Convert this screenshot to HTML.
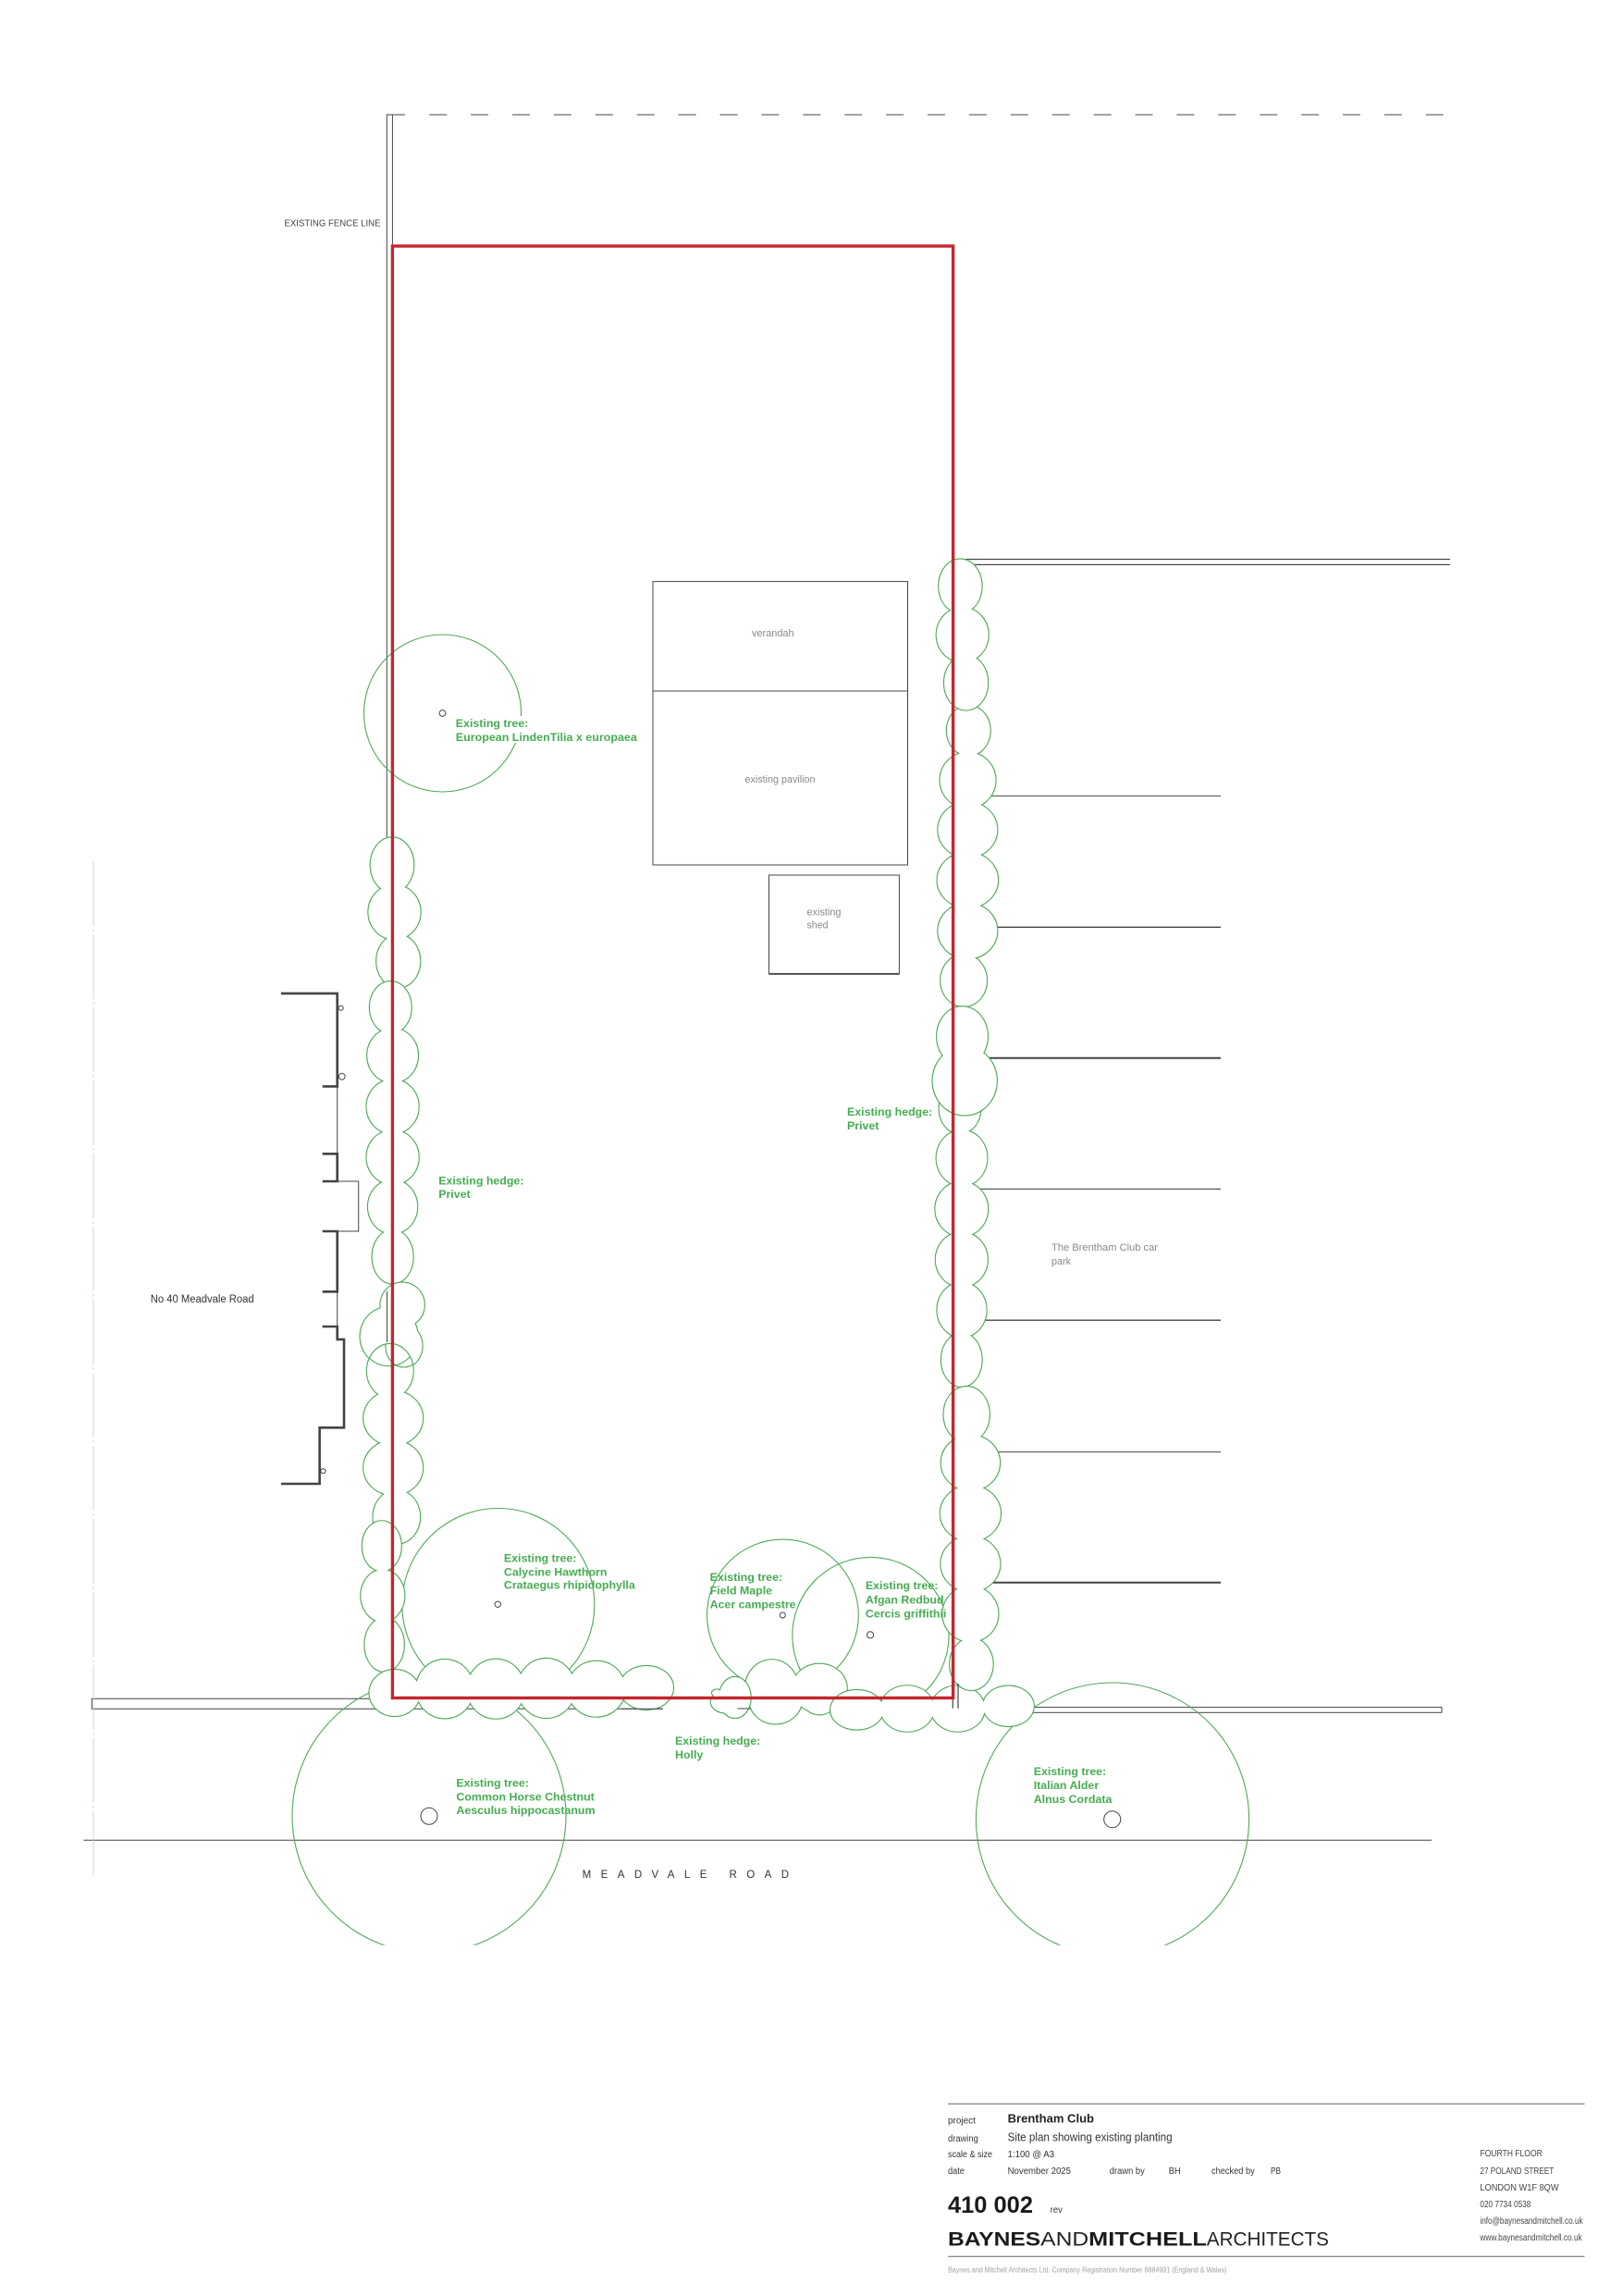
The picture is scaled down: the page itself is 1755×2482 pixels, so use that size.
<!DOCTYPE html>
<html lang="en">
<head>
<meta charset="utf-8">
<title>Brentham Club - Site plan showing existing planting</title>
<style>
html,body{margin:0;padding:0;background:#fff;}
svg{display:block;}
text{font-family:"Liberation Sans",sans-serif;}
.g{font-weight:bold;font-size:12.4px;fill:#46ac52;}
.p{font-size:11px;fill:#888;}
.t{font-size:10px;fill:#333;}
.a{font-size:10px;fill:#444;}
</style>
</head>
<body>
<svg xmlns="http://www.w3.org/2000/svg" width="1755" height="2482" viewBox="0 0 1755 2482">
<defs>
<clipPath id="cl"><rect x="0" y="0" width="1755" height="2102.7"/></clipPath>
<clipPath id="d1c"><ellipse cx="421.8" cy="1482" rx="24.9" ry="29"/></clipPath>
<g id="hR0"><ellipse cx="926.6" cy="1848.3" rx="28.5" ry="21.3"/><ellipse cx="981" cy="1847" rx="29" ry="24.7"/><ellipse cx="1035.7" cy="1847" rx="29" ry="24.7"/><ellipse cx="1090.4" cy="1844.3" rx="27.4" ry="21.7"/></g>
<g id="hB"><ellipse cx="834.5" cy="1825" rx="28.6" ry="30.7"/><ellipse cx="886.2" cy="1825" rx="29.5" ry="26.3"/><ellipse cx="838.7" cy="1836.7" rx="28.6" ry="26.7"/><ellipse cx="886.2" cy="1831.7" rx="21" ry="21.7"/></g>
<g id="hA"><ellipse cx="794.7" cy="1835" rx="17" ry="22"/><ellipse cx="785.7" cy="1839.7" rx="17" ry="12"/><ellipse cx="775" cy="1830" rx="5" ry="3.5"/></g>
<g id="rB"><ellipse cx="1047.3" cy="789.8" rx="23.4" ry="27"/><ellipse cx="1046.5" cy="843.4" rx="30" ry="30"/><ellipse cx="1046.3" cy="897" rx="32" ry="30"/><ellipse cx="1046.3" cy="951.4" rx="32.8" ry="30"/><ellipse cx="1046.3" cy="1006.3" rx="32" ry="30"/><ellipse cx="1042.1" cy="1059.9" rx="24.9" ry="28"/></g>
<g id="rA"><ellipse cx="1038.4" cy="633.6" rx="23.2" ry="29"/><ellipse cx="1040.7" cy="686.3" rx="28" ry="29.5"/><ellipse cx="1044.6" cy="738" rx="23.6" ry="29.5"/></g>
<g id="rD"><ellipse cx="1038" cy="1198.3" rx="22.4" ry="27"/><ellipse cx="1040" cy="1251.9" rx="27.4" ry="30"/><ellipse cx="1039.8" cy="1307" rx="28.4" ry="29.5"/><ellipse cx="1039.8" cy="1361.6" rx="28" ry="29.5"/><ellipse cx="1040" cy="1416" rx="26.6" ry="29.5"/><ellipse cx="1039.8" cy="1470" rx="21.8" ry="29"/></g>
<g id="rC"><ellipse cx="1040.5" cy="1120.2" rx="27.4" ry="32"/><ellipse cx="1043.2" cy="1168.4" rx="34.6" ry="37"/></g>
<g id="rE"><ellipse cx="1045.2" cy="1529" rx="24.7" ry="30"/><ellipse cx="1049.4" cy="1581.3" rx="31.7" ry="30"/><ellipse cx="1049.4" cy="1636" rx="32.6" ry="30"/><ellipse cx="1049.4" cy="1690.6" rx="32" ry="30"/><ellipse cx="1049.4" cy="1744.6" rx="30" ry="30"/><ellipse cx="1050.4" cy="1799" rx="23.2" ry="28"/></g>
<g id="lA"><ellipse cx="424" cy="935" rx="23.3" ry="29.6"/><ellipse cx="426.5" cy="986" rx="28.1" ry="29.3"/><ellipse cx="430.7" cy="1039" rx="23.5" ry="28.5"/></g>
<g id="lB"><ellipse cx="422.3" cy="1089" rx="22.4" ry="28"/><ellipse cx="424.6" cy="1141" rx="27.4" ry="29.3"/><ellipse cx="424.6" cy="1196.3" rx="28.1" ry="29.3"/><ellipse cx="424.6" cy="1251" rx="28.1" ry="29.3"/><ellipse cx="424.6" cy="1304.5" rx="26.6" ry="29"/><ellipse cx="424.6" cy="1358.6" rx="22" ry="29"/></g>
<g id="lC"><ellipse cx="435.1" cy="1410.6" rx="23.7" ry="24"/><ellipse cx="436.7" cy="1455" rx="19.9" ry="23"/><ellipse cx="420.6" cy="1444.8" rx="31" ry="32"/></g>
<g id="lD"><ellipse cx="421.8" cy="1482" rx="24.9" ry="29"/><ellipse cx="425.2" cy="1533" rx="32" ry="29.5"/><ellipse cx="425.2" cy="1586.6" rx="32" ry="29.5"/><ellipse cx="428.8" cy="1639.8" rx="25.3" ry="29"/></g>
<g id="lE"><ellipse cx="412.8" cy="1671.3" rx="21" ry="27"/><ellipse cx="413.8" cy="1725" rx="23.5" ry="28"/><ellipse cx="415.6" cy="1778" rx="21.2" ry="29"/></g>
<g id="bL"><ellipse cx="426.8" cy="1830" rx="27.3" ry="25"/><ellipse cx="481" cy="1825.7" rx="31" ry="31.7"/><ellipse cx="536.2" cy="1825.7" rx="31" ry="32"/><ellipse cx="590.8" cy="1825" rx="31" ry="32"/><ellipse cx="644.9" cy="1825.7" rx="31" ry="30"/><ellipse cx="699" cy="1824.5" rx="29" ry="23.5"/></g>
</defs>

<rect width="1755" height="2482" fill="#fff"/>

<!-- boundary lines -->
<g fill="none" stroke="#444" stroke-width="1">
<path d="M418.3 905V124H438"/>
<path d="M424.4 124V270"/>
<path d="M464.2 124H1562" stroke-dasharray="19 25.9"/>
<path d="M90.3 1989.3H1548"/>
<rect x="99.3" y="1836.3" width="335" height="11"/>
<path d="M434 1836.3H720M434 1847.3H717"/>
<rect x="1110" y="1845.6" width="449" height="5.7"/>
<rect x="706" y="628.6" width="275.5" height="306.4"/>
<path d="M706 747H981.5"/>
<path d="M831.5 946H972.4V1052.8H831.5Z"/>
<path d="M831.5 1052.8H972.4" stroke-width="1.8"/>
</g>
<path d="M1040 604.6H1568M1046.3 610.4H1568" fill="none" stroke="#222" stroke-width="1"/>
<g fill="none" stroke="#444">
<path d="M1060 860.4H1320" stroke-width="1"/>
<path d="M1060 1002.3H1320" stroke-width="1.4"/>
<path d="M1060 1143.8H1320" stroke-width="2"/>
<path d="M1050 1285.3H1320" stroke-width="1.2"/>
<path d="M1060 1427.2H1320" stroke-width="1.4"/>
<path d="M1060 1569.6H1320" stroke-width="1"/>
<path d="M1060 1710.7H1320" stroke-width="2"/>
</g>
<path d="M101 931V2028" fill="none" stroke="#bccfe0" stroke-width="0.8" stroke-dasharray="70 3 3 3"/>

<!-- house -->
<g fill="none" stroke="#444" stroke-width="2.6">
<path d="M303.9 1073.9H364.7V1174.4H348.7"/>
<path d="M348.7 1247.3H364.7V1277H348.7"/>
<path d="M348.7 1331H364.7V1396.3H348.7"/>
<path d="M348.7 1434H364.7V1447.9H372V1543.3H345.6V1604H303.9"/>
</g>
<path d="M364.7 1174.4V1247.3M364.7 1277H387.7V1331H364.7M364.7 1396.3V1434" fill="none" stroke="#444" stroke-width="1"/>
<g fill="#fff" stroke="#444" stroke-width="1">
<circle cx="368.6" cy="1089.7" r="2.6"/>
<circle cx="369.7" cy="1163.7" r="3.4"/>
<circle cx="349.4" cy="1590.2" r="2.6"/>
</g>

<!-- trees -->
<g fill="none" stroke="#4fa85a" stroke-width="1.1">
<circle cx="478.5" cy="771" r="85"/>
<circle cx="538.8" cy="1734.5" r="104"/>
<circle cx="846.4" cy="1746" r="81.9"/>
<circle cx="941.4" cy="1768" r="84.6"/>
<g clip-path="url(#cl)">
<circle cx="464" cy="1963" r="148"/>
<circle cx="1203" cy="1966.6" r="147.6"/>
</g>
</g>
<rect x="500" y="774" width="189" height="29" fill="#fff"/>
<g fill="none" stroke="#444" stroke-width="1">
<circle cx="478.5" cy="771" r="3.4"/>
<circle cx="538.3" cy="1734.3" r="3.2"/>
<circle cx="846.3" cy="1746" r="3"/>
<circle cx="941" cy="1767.3" r="3.6"/>
<circle cx="464" cy="1963.3" r="9"/>
<circle cx="1202.7" cy="1966.7" r="9"/>
</g>

<!-- hedges -->
<g fill="none" stroke="#4fa85a" stroke-width="2.2"><use href="#hB"/></g><use href="#hB" fill="#fff"/>
<g fill="none" stroke="#4fa85a" stroke-width="2.2"><use href="#hA"/></g><use href="#hA" fill="#fff"/>
<g fill="none" stroke="#4fa85a" stroke-width="2.2"><use href="#hR0"/></g><use href="#hR0" fill="#fff"/>
<g fill="none" stroke="#4fa85a" stroke-width="2.2"><use href="#rB"/></g><use href="#rB" fill="#fff"/>
<g fill="none" stroke="#4fa85a" stroke-width="2.2"><use href="#rA"/></g><use href="#rA" fill="#fff"/>
<g fill="none" stroke="#4fa85a" stroke-width="2.2"><use href="#rD"/></g><use href="#rD" fill="#fff"/>
<g fill="none" stroke="#4fa85a" stroke-width="2.2"><use href="#rC"/></g><use href="#rC" fill="#fff"/>
<g fill="none" stroke="#4fa85a" stroke-width="2.2"><use href="#rE"/></g><use href="#rE" fill="#fff"/>
<g fill="none" stroke="#4fa85a" stroke-width="2.2"><use href="#lA"/></g><use href="#lA" fill="#fff"/>
<g fill="none" stroke="#4fa85a" stroke-width="2.2"><use href="#lB"/></g><use href="#lB" fill="#fff"/>
<g fill="none" stroke="#4fa85a" stroke-width="2.2"><use href="#lC"/></g><use href="#lC" fill="#fff"/>
<g fill="none" stroke="#4fa85a" stroke-width="2.2"><use href="#lD"/></g><use href="#lD" fill="#fff"/>
<g clip-path="url(#d1c)" fill="none" stroke="#4fa85a" stroke-width="1.1"><ellipse cx="420.6" cy="1444.8" rx="31" ry="32"/><ellipse cx="436.7" cy="1455" rx="19.9" ry="23"/></g>
<g fill="none" stroke="#4fa85a" stroke-width="2.2"><use href="#lE"/></g><use href="#lE" fill="#fff"/>
<g fill="none" stroke="#4fa85a" stroke-width="2.2"><use href="#bL"/></g><use href="#bL" fill="#fff"/>

<!-- lines over hedge -->
<g fill="none" stroke="#444" stroke-width="1">
<path d="M418.5 1396V1451"/>
<path d="M672 1847.3H717"/>
<path d="M797.4 1847H811.7"/>
</g>
<path d="M1030.2 1820V1846.7M1036 1820V1846.7" fill="none" stroke="#222" stroke-width="1"/>

<!-- red boundary -->
<rect x="424.4" y="266" width="606.2" height="1569.5" fill="none" stroke="#c4262e" stroke-width="3.4"/>

<!-- green labels -->
<text class="g" x="492.8" y="786">Existing tree:</text>
<text class="g" x="492.8" y="801" textLength="196" lengthAdjust="spacingAndGlyphs">European LindenTilia x europaea</text>
<text class="g" x="474.2" y="1280.5">Existing hedge:</text>
<text class="g" x="474.2" y="1294.8">Privet</text>
<text class="g" x="916" y="1206">Existing hedge:</text>
<text class="g" x="916" y="1221">Privet</text>
<text class="g" x="544.9" y="1688.6">Existing tree:</text>
<text class="g" x="544.9" y="1703.5">Calycine Hawthorn</text>
<text class="g" x="544.9" y="1717.4">Crataegus rhipidophylla</text>
<text class="g" x="767.6" y="1709">Existing tree:</text>
<text class="g" x="767.6" y="1723.3">Field Maple</text>
<text class="g" x="767.6" y="1738.3">Acer campestre</text>
<text class="g" x="935.9" y="1718">Existing tree:</text>
<text class="g" x="935.9" y="1733.3">Afgan Redbud</text>
<text class="g" x="935.9" y="1748.3">Cercis griffithii</text>
<text class="g" x="730" y="1886">Existing hedge:</text>
<text class="g" x="730" y="1901">Holly</text>
<text class="g" x="493.4" y="1931.7">Existing tree:</text>
<text class="g" x="493.4" y="1946.3">Common Horse Chestnut</text>
<text class="g" x="493.4" y="1961.2">Aesculus hippocastanum</text>
<text class="g" x="1117.7" y="1919">Existing tree:</text>
<text class="g" x="1117.7" y="1934">Italian Alder</text>
<text class="g" x="1117.7" y="1949">Alnus Cordata</text>

<!-- plan labels -->
<text x="307.5" y="244.4" font-size="10.5" fill="#444" textLength="104" lengthAdjust="spacingAndGlyphs">EXISTING FENCE LINE</text>
<text class="p" x="813" y="688" textLength="45.6" lengthAdjust="spacingAndGlyphs">verandah</text>
<text class="p" x="805.5" y="846" textLength="76" lengthAdjust="spacingAndGlyphs">existing pavilion</text>
<text class="p" x="872.5" y="989.5" textLength="37" lengthAdjust="spacingAndGlyphs">existing</text>
<text class="p" x="872.5" y="1003.5" textLength="23" lengthAdjust="spacingAndGlyphs">shed</text>
<text class="p" x="1137" y="1351.8" font-size="12" textLength="115" lengthAdjust="spacingAndGlyphs">The Brentham Club car</text>
<text class="p" x="1137" y="1367" font-size="12" textLength="21" lengthAdjust="spacingAndGlyphs">park</text>
<text x="162.7" y="1408" font-size="11.5" fill="#333" textLength="112" lengthAdjust="spacingAndGlyphs">No 40 Meadvale Road</text>
<text x="629.6" y="2030" font-size="11.5" fill="#333" textLength="223.4" lengthAdjust="spacing">MEADVALE ROAD</text>

<!-- title block -->
<path d="M1025 2274.3H1713.5M1025 2439.3H1713.5" fill="none" stroke="#666" stroke-width="1"/>
<text class="t" x="1025" y="2295.7" textLength="29.9" lengthAdjust="spacingAndGlyphs">project</text>
<text x="1089.6" y="2294.7" font-size="13" font-weight="bold" fill="#222" textLength="93.4" lengthAdjust="spacingAndGlyphs">Brentham Club</text>
<text class="t" x="1025" y="2315" textLength="32.8" lengthAdjust="spacingAndGlyphs">drawing</text>
<text x="1089.6" y="2314.3" font-size="13" fill="#333" textLength="178" lengthAdjust="spacingAndGlyphs">Site plan showing existing planting</text>
<text class="t" x="1025" y="2332" textLength="48" lengthAdjust="spacingAndGlyphs">scale &amp; size</text>
<text class="t" x="1089.6" y="2332" textLength="50.4" lengthAdjust="spacingAndGlyphs">1:100 @ A3</text>
<text class="t" x="1025" y="2350" textLength="17.9" lengthAdjust="spacingAndGlyphs">date</text>
<text class="t" x="1089.6" y="2350" textLength="68.4" lengthAdjust="spacingAndGlyphs">November 2025</text>
<text class="t" x="1199.8" y="2350" textLength="38" lengthAdjust="spacingAndGlyphs">drawn by</text>
<text class="t" x="1263.8" y="2350" textLength="13" lengthAdjust="spacingAndGlyphs">BH</text>
<text class="t" x="1310" y="2350" textLength="46.8" lengthAdjust="spacingAndGlyphs">checked by</text>
<text class="t" x="1374" y="2350" textLength="11" lengthAdjust="spacingAndGlyphs">PB</text>
<text x="1025" y="2392" font-size="24.6" font-weight="bold" fill="#1a1a1a" textLength="92" lengthAdjust="spacingAndGlyphs">410 002</text>
<text class="t" x="1135.8" y="2392" font-size="9" textLength="13" lengthAdjust="spacingAndGlyphs">rev</text>
<text x="1025" y="2427.7" font-size="21" font-weight="bold" fill="#1a1a1a" textLength="100.2" lengthAdjust="spacingAndGlyphs">BAYNES</text>
<text x="1125.2" y="2427.7" font-size="21" fill="#222" textLength="52" lengthAdjust="spacingAndGlyphs">AND</text>
<text x="1177.2" y="2427.7" font-size="21" font-weight="bold" fill="#1a1a1a" textLength="127.6" lengthAdjust="spacingAndGlyphs">MITCHELL</text>
<text x="1304.8" y="2427.7" font-size="21" fill="#222" textLength="132.2" lengthAdjust="spacingAndGlyphs">ARCHITECTS</text>
<text class="a" x="1600.4" y="2331" textLength="67.4" lengthAdjust="spacingAndGlyphs">FOURTH FLOOR</text>
<text class="a" x="1600.4" y="2350" textLength="79.9" lengthAdjust="spacingAndGlyphs">27 POLAND STREET</text>
<text class="a" x="1600.4" y="2368" textLength="85.2" lengthAdjust="spacingAndGlyphs">LONDON W1F 8QW</text>
<text class="a" x="1600.4" y="2386" textLength="54.9" lengthAdjust="spacingAndGlyphs">020 7734 0538</text>
<text class="a" x="1600.4" y="2404" textLength="111.2" lengthAdjust="spacingAndGlyphs">info@baynesandmitchell.co.uk</text>
<text class="a" x="1600.4" y="2422" textLength="110.3" lengthAdjust="spacingAndGlyphs">www.baynesandmitchell.co.uk</text>
<text x="1025" y="2456.7" font-size="8" fill="#a0a0a0" textLength="301.4" lengthAdjust="spacingAndGlyphs">Baynes and Mitchell Architects Ltd. Company Registration Number 6884991 (England &amp; Wales)</text>
</svg>
</body>
</html>
